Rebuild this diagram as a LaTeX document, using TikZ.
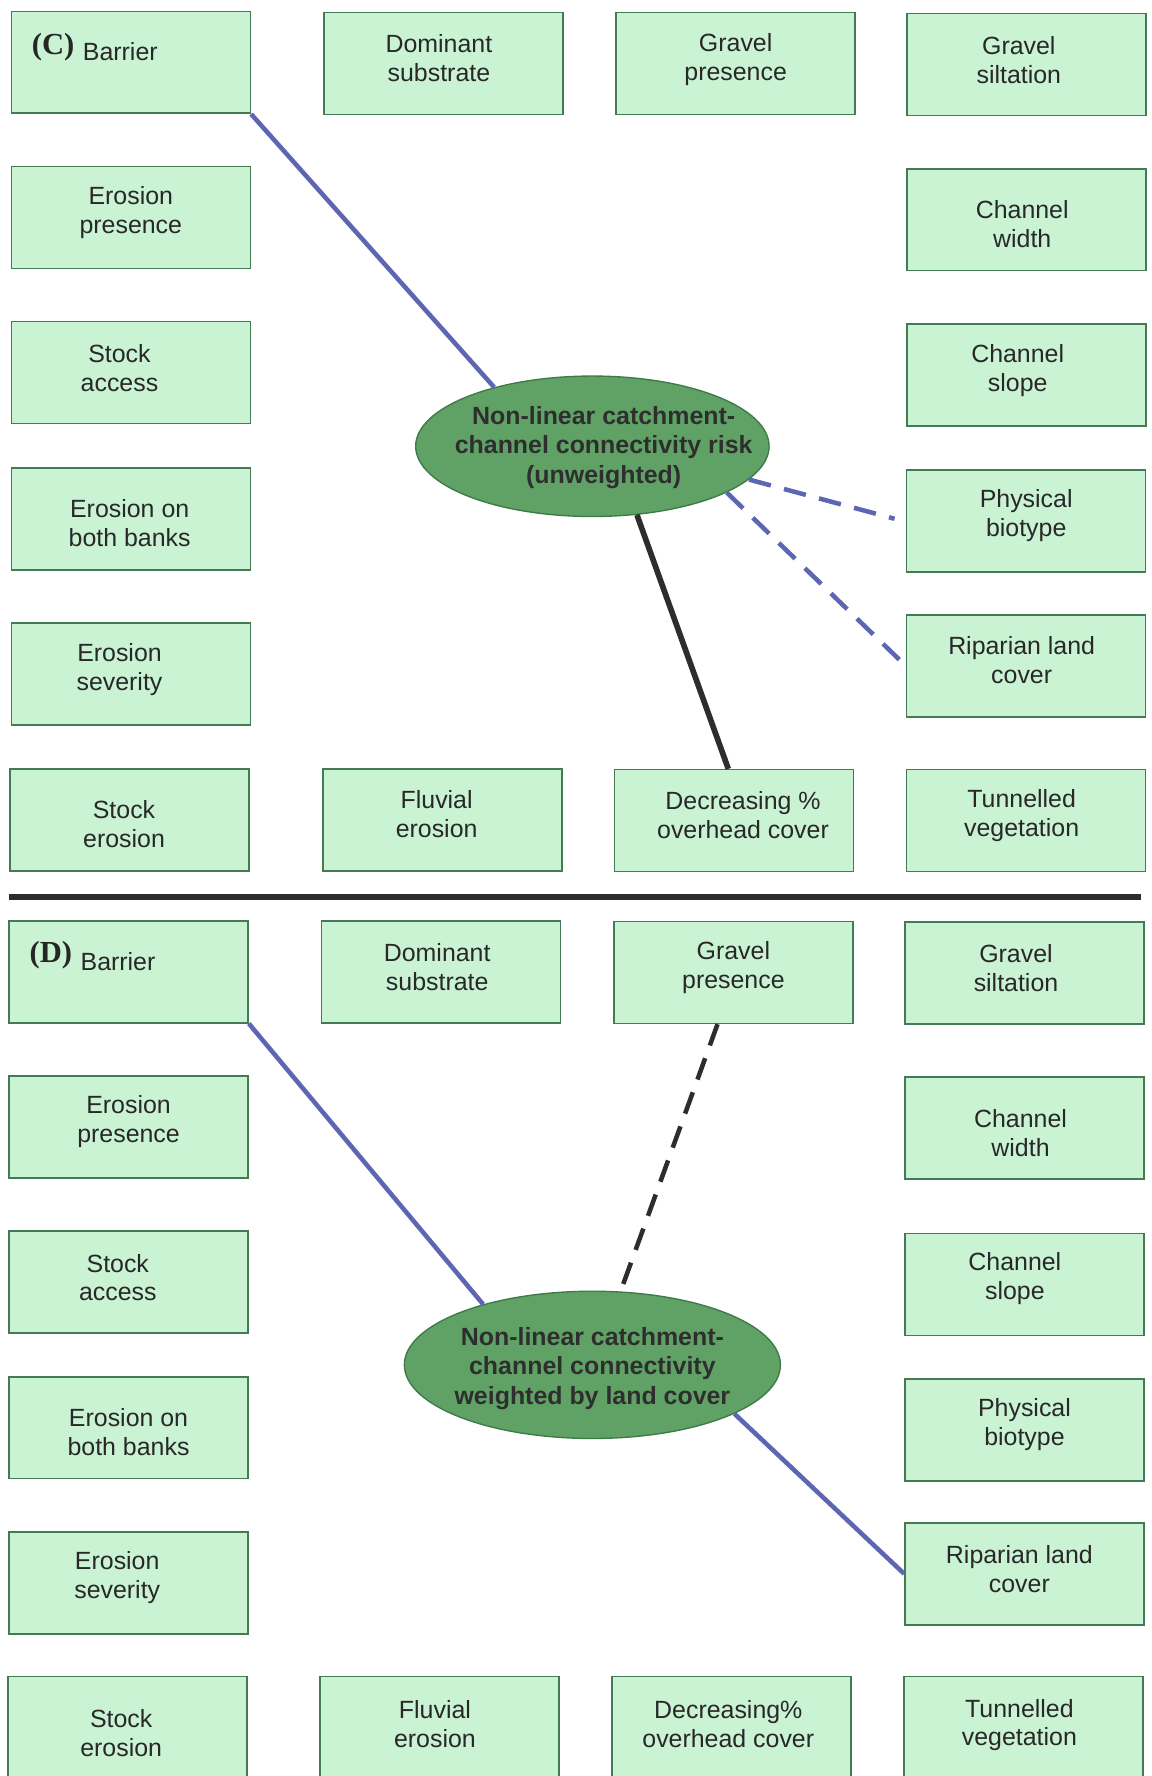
\documentclass[tikz,border=0pt]{standalone}
\usepackage{fontspec}
\setmainfont{Liberation Sans}
\newfontfamily\serifbold{Liberation Serif}
\usetikzlibrary{shapes.geometric,calc}
\definecolor{boxfill}{RGB}{202,243,212}
\definecolor{boxline}{RGB}{68,122,84}
\definecolor{ellfill}{RGB}{96,162,102}
\definecolor{ellline}{RGB}{62,122,72}
\definecolor{linkblue}{RGB}{92,102,178}
\definecolor{linkblack}{RGB}{45,45,45}
\definecolor{txt}{RGB}{40,40,40}
\tikzset{
  box/.style={draw=boxline, fill=boxfill, line width=1.4pt, minimum width=211pt, minimum height=90pt, inner sep=0pt},
  boxtext/.style={inner sep=0pt, align=center, text=txt, font=\fontsize{22}{25.5}\selectfont},
  ellbox/.style={ellipse, draw=ellline, fill=ellfill, line width=1.2pt, inner sep=0pt},
  elltext/.style={inner sep=0pt, align=center, text=black!82, font=\fontsize{22}{26}\selectfont\bfseries},
  panellabel/.style={anchor=base west, inner sep=0pt, text=black!85, font=\serifbold\fontsize{27}{30}\selectfont\bfseries},
  barriertext/.style={anchor=base west, inner sep=0pt, text=txt, font=\fontsize{22}{25}\selectfont},
  bluelink/.style={draw=linkblue, line width=4pt},
  bluedash/.style={draw=linkblue, line width=4pt, dash pattern=on 20pt off 12pt},
  blacklink/.style={draw=linkblack, line width=5pt},
  blackdash/.style={draw=linkblack, line width=4pt, dash pattern=on 20pt off 12pt},
  sep/.style={draw=linkblack, line width=6pt}
}
\begin{document}
\begin{tikzpicture}[x=1pt,y=-1pt]
\useasboundingbox[fill=white] (0,0) rectangle (1017,1568);
% ---------- Panel C ----------
\node[box] (barrierC) at (115.5,55) {};
\node[panellabel] (labC) at (28,48) {(C)};
\node[barriertext] (barC) at (73,53) {Barrier};
\node[box] (domC) at (391.5,56) {};
\node[boxtext] (domCt) at ($(domC)+(-4,-5)$) {Dominant\\substrate};
\node[box] (gpresC) at (649.5,56) {};
\node[boxtext] (gpresCt) at ($(gpresC)+(0,-3.5)$) {Gravel\\presence};
\node[box] (gsiltC) at (906.5,57) {};
\node[boxtext] (gsiltCt) at ($(gsiltC)+(-7,-4)$) {Gravel\\siltation};
\node[box] (erpresC) at (115.5,192) {};
\node[boxtext] (erpresCt) at ($(erpresC)+(0,-4.5)$) {Erosion\\presence};
\node[box] (cwidthC) at (906.5,194) {};
\node[boxtext] (cwidthCt) at ($(cwidthC)+(-4,4)$) {Channel\\width};
\node[box] (stockaC) at (115.5,329) {};
\node[boxtext] (stockaCt) at ($(stockaC)+(-10,-4)$) {Stock\\access};
\node[box] (cslopeC) at (906.5,331) {};
\node[boxtext] (cslopeCt) at ($(cslopeC)+(-8,-4)$) {Channel\\slope};
\node[box] (bothC) at (115.5,458) {};
\node[boxtext] (bothCt) at ($(bothC)+(-1,3.5)$) {Erosion on\\both banks};
\node[box] (physC) at (906,460) {};
\node[boxtext] (physCt) at ($(physC)+(0,-5)$) {Physical\\biotype};
\node[box] (sevC) at (115.5,595) {};
\node[boxtext] (sevCt) at ($(sevC)+(-10,-4)$) {Erosion\\severity};
\node[box] (ripC) at (906,588) {};
\node[boxtext] (ripCt) at ($(ripC)+(-4,-5)$) {Riparian land\\cover};
\node[box] (stockeC) at (114.5,724) {};
\node[boxtext] (stockeCt) at ($(stockeC)+(-5,3.5)$) {Stock\\erosion};
\node[box] (fluvC) at (390.5,724) {};
\node[boxtext] (fluvCt) at ($(fluvC)+(-5,-5)$) {Fluvial\\erosion};
\node[box] (decC) at (648,724.5) {};
\node[boxtext] (decCt) at ($(decC)+(8,-4.5)$) {Decreasing \%\\overhead cover};
\node[box] (tunC) at (906,724.5) {};
\node[boxtext] (tunCt) at ($(tunC)+(-4,-4.5)$) {Tunnelled\\vegetation};
\node[ellbox, minimum width=312pt, minimum height=124pt] (ellC) at (523,394) {};
\node[elltext] (ellCtext) at (533,395) {Non-linear catchment-\\channel connectivity risk\\(unweighted)};
\draw[bluelink] (barrierC.south east) -- (ellC.149);
\draw[bluedash] (ellC.-12) -- ($(physC.west)+(-10,-2)$);
\draw[bluedash] (ellC.-19) -- (ripC.west);
\draw[blacklink] (ellC.-57) -- ($(decC.north)+(-5,0)$);
% ---------- separator ----------
\coordinate (sepL) at (8,792);
\coordinate (sepR) at (1007,792);
\draw[sep] (sepL) -- (sepR);
% ---------- Panel D ----------
\node[box] (barrierD) at (113.5,858) {};
\node[panellabel] (labD) at (26,850) {(D)};
\node[barriertext] (barD) at (71,857) {Barrier};
\node[box] (domD) at (389.5,858) {};
\node[boxtext] (domDt) at ($(domD)+(-3.5,-4.5)$) {Dominant\\substrate};
\node[box] (gpresD) at (647.5,858.5) {};
\node[boxtext] (gpresDt) at ($(gpresD)+(0,-4)$) {Gravel\\presence};
\node[box] (gsiltD) at (904.5,859) {};
\node[boxtext] (gsiltDt) at ($(gsiltD)+(-7.5,-4)$) {Gravel\\siltation};
\node[box] (erpresD) at (113.5,995) {};
\node[boxtext] (erpresDt) at ($(erpresD)+(0,-5)$) {Erosion\\presence};
\node[box] (cwidthD) at (904.5,996) {};
\node[boxtext] (cwidthDt) at ($(cwidthD)+(-3.5,4.5)$) {Channel\\width};
\node[box] (stockaD) at (113.5,1132) {};
\node[boxtext] (stockaDt) at ($(stockaD)+(-9.5,-4)$) {Stock\\access};
\node[box] (cslopeD) at (904.5,1134) {};
\node[boxtext] (cslopeDt) at ($(cslopeD)+(-8.5,-5)$) {Channel\\slope};
\node[box] (bothD) at (113.5,1260.5) {};
\node[boxtext] (bothDt) at ($(bothD)+(0,4)$) {Erosion on\\both banks};
\node[box] (physD) at (904.5,1262.5) {};
\node[boxtext] (physDt) at ($(physD)+(0,-4.5)$) {Physical\\biotype};
\node[box] (sevD) at (113.5,1397.5) {};
\node[boxtext] (sevDt) at ($(sevD)+(-10,-4.5)$) {Erosion\\severity};
\node[box] (ripD) at (904.5,1389.5) {};
\node[boxtext] (ripDt) at ($(ripD)+(-4.5,-4)$) {Riparian land\\cover};
\node[box] (stockeD) at (112.5,1525) {};
\node[boxtext] (stockeDt) at ($(stockeD)+(-5.5,5)$) {Stock\\erosion};
\node[box] (fluvD) at (388,1525) {};
\node[boxtext] (fluvDt) at ($(fluvD)+(-4,-3)$) {Fluvial\\erosion};
\node[box] (decD) at (646,1525) {};
\node[boxtext] (decDt) at ($(decD)+(-3,-3)$) {Decreasing\%\\overhead cover};
\node[box] (tunD) at (903.5,1525) {};
\node[boxtext] (tunDt) at ($(tunD)+(-3.5,-2)$) {Tunnelled\\vegetation};
\node[ellbox, minimum width=332pt, minimum height=130pt] (ellD) at (523,1205) {};
\node[elltext] (ellDtext) at (523,1208) {Non-linear catchment-\\channel connectivity\\weighted by land cover};
\draw[bluelink] (barrierD.south east) -- (ellD.151);
\draw[blackdash] ($(gpresD.south)+(-14,0)$) -- (ellD.69);
\draw[bluelink] (ellD.-19) -- (ripD.west);
\end{tikzpicture}
\end{document}
